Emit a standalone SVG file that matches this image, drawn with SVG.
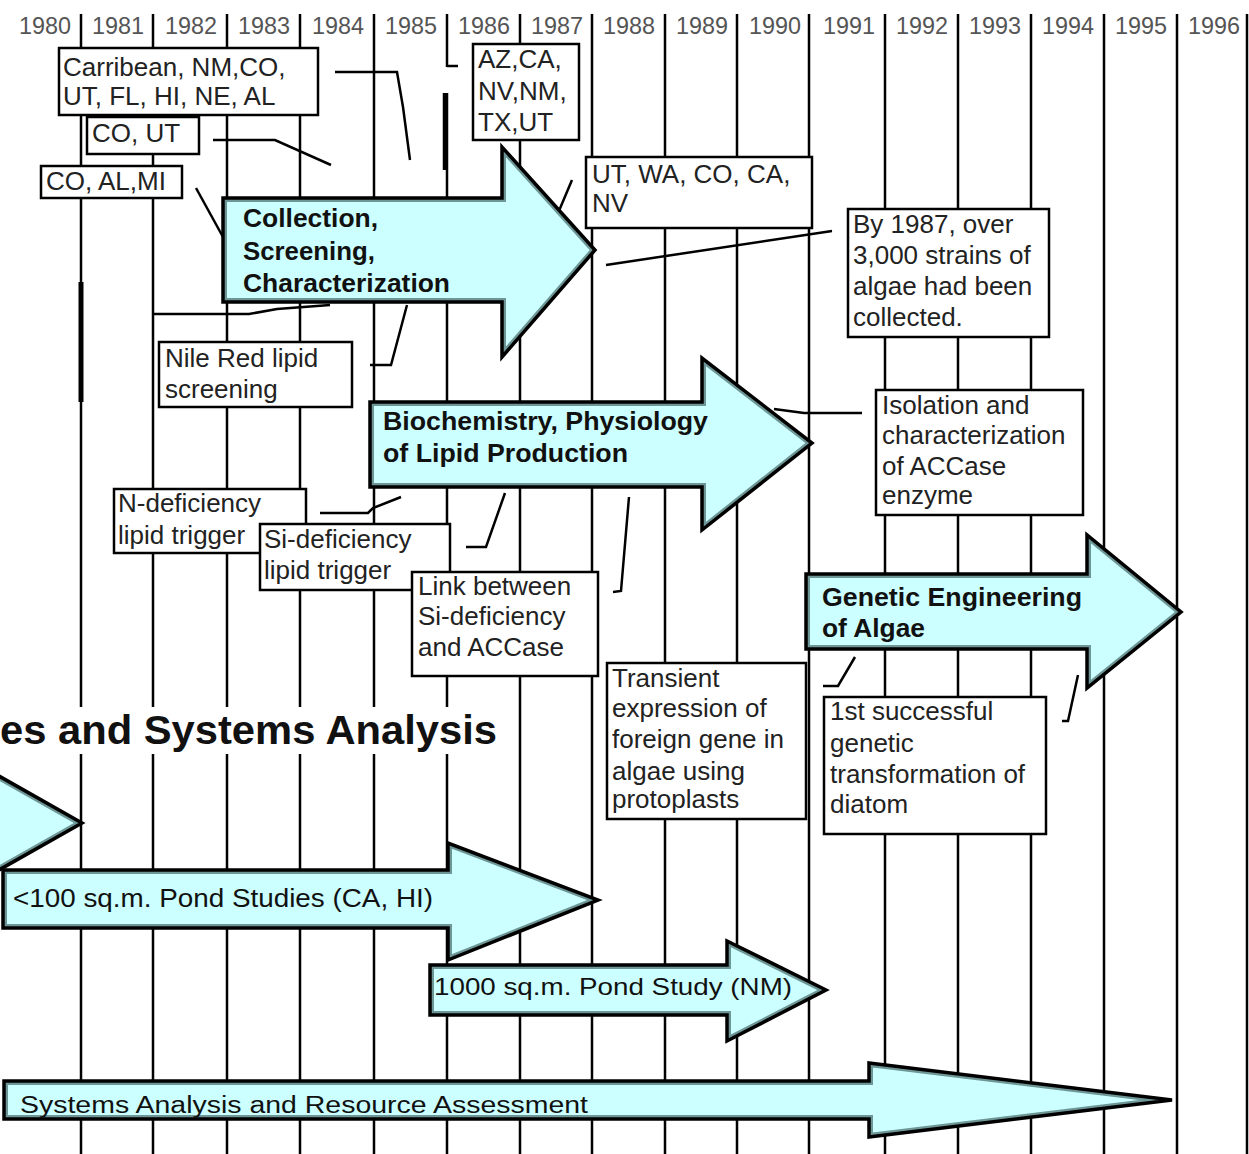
<svg xmlns="http://www.w3.org/2000/svg" width="1249" height="1154" viewBox="0 0 1249 1154">
<style>
.grid line{stroke:#000;stroke-width:2.5}
.yr{font-family:"Liberation Sans",Arial,sans-serif;font-size:23px;fill:#555;text-anchor:middle}
.box rect{fill:#fff;stroke:#000;stroke-width:2.5}
.bt{font-family:"Liberation Sans",Arial,sans-serif;font-size:26px;fill:#222}
.at{font-family:"Liberation Sans",Arial,sans-serif;font-size:25px;font-weight:bold;fill:#111}
.pt{font-family:"Liberation Sans",Arial,sans-serif;fill:#111}
.af{fill:#ccffff}
.ai{fill:none;stroke:#6f9696;stroke-width:8}
.ao{fill:none;stroke:#000;stroke-width:3.5}
.conn polyline,.conn line{fill:none;stroke:#000;stroke-width:2.5}
.title{font-family:"Liberation Sans",Arial,sans-serif;font-size:41px;font-weight:bold;fill:#111}
</style>
<defs>
<path id="pA" d="M223,198 H502 V147 L595,250 L502,357 V302 H223 Z"/>
<path id="pB" d="M370,402 H702 V358 L812,443 L702,530 V487 H370 Z"/>
<path id="pC" d="M806,574 H1087 V535 L1181,612 L1087,688 V649 H806 Z"/>
<path id="pD" d="M-40,754 L82,823 L-40,892 Z"/>
<path id="pE" d="M3,870 H448 V843 L598,900 L448,960 V928 H3 Z"/>
<path id="pF" d="M430,965 H727 V941 L826,990 L727,1041 V1015 H430 Z"/>
<path id="pG" d="M4,1081 H869 V1063 L1172,1100 L869,1137 V1119 H4 Z"/>
<clipPath id="cA"><use href="#pA"/></clipPath>
<clipPath id="cB"><use href="#pB"/></clipPath>
<clipPath id="cC"><use href="#pC"/></clipPath>
<clipPath id="cD"><use href="#pD"/></clipPath>
<clipPath id="cE"><use href="#pE"/></clipPath>
<clipPath id="cF"><use href="#pF"/></clipPath>
<clipPath id="cG"><use href="#pG"/></clipPath>
</defs>
<rect width="1249" height="1154" fill="#fff"/>
<g id="timeline">
<g class="grid">
<line x1="81" y1="14" x2="81" y2="1154"/>
<line x1="153" y1="14" x2="153" y2="1154"/>
<line x1="227" y1="14" x2="227" y2="1154"/>
<line x1="300" y1="14" x2="300" y2="1154"/>
<line x1="374" y1="14" x2="374" y2="1154"/>
<line x1="447" y1="14" x2="447" y2="67"/>
<line x1="447" y1="93" x2="447" y2="1154"/>
<line x1="520" y1="14" x2="520" y2="1154"/>
<line x1="592" y1="14" x2="592" y2="1154"/>
<line x1="665" y1="14" x2="665" y2="1154"/>
<line x1="737" y1="14" x2="737" y2="1154"/>
<line x1="809" y1="14" x2="809" y2="1154"/>
<line x1="885" y1="14" x2="885" y2="1154"/>
<line x1="958" y1="14" x2="958" y2="1154"/>
<line x1="1031" y1="14" x2="1031" y2="1154"/>
<line x1="1104" y1="14" x2="1104" y2="1154"/>
<line x1="1177" y1="14" x2="1177" y2="1154"/>
<line x1="1247" y1="14" x2="1247" y2="1154"/>
<line x1="81" y1="282" x2="81" y2="402" style="stroke-width:5"/>
<line x1="445" y1="93" x2="445" y2="170" style="stroke-width:4.5"/>
</g>
<g class="yr">
<text x="45" y="34" textLength="52" lengthAdjust="spacingAndGlyphs">1980</text>
<text x="118" y="34" textLength="52" lengthAdjust="spacingAndGlyphs">1981</text>
<text x="191" y="34" textLength="52" lengthAdjust="spacingAndGlyphs">1982</text>
<text x="264" y="34" textLength="52" lengthAdjust="spacingAndGlyphs">1983</text>
<text x="338" y="34" textLength="52" lengthAdjust="spacingAndGlyphs">1984</text>
<text x="411" y="34" textLength="52" lengthAdjust="spacingAndGlyphs">1985</text>
<text x="484" y="34" textLength="52" lengthAdjust="spacingAndGlyphs">1986</text>
<text x="557" y="34" textLength="52" lengthAdjust="spacingAndGlyphs">1987</text>
<text x="629" y="34" textLength="52" lengthAdjust="spacingAndGlyphs">1988</text>
<text x="702" y="34" textLength="52" lengthAdjust="spacingAndGlyphs">1989</text>
<text x="775" y="34" textLength="52" lengthAdjust="spacingAndGlyphs">1990</text>
<text x="849" y="34" textLength="52" lengthAdjust="spacingAndGlyphs">1991</text>
<text x="922" y="34" textLength="52" lengthAdjust="spacingAndGlyphs">1992</text>
<text x="995" y="34" textLength="52" lengthAdjust="spacingAndGlyphs">1993</text>
<text x="1068" y="34" textLength="52" lengthAdjust="spacingAndGlyphs">1994</text>
<text x="1141" y="34" textLength="52" lengthAdjust="spacingAndGlyphs">1995</text>
<text x="1214" y="34" textLength="52" lengthAdjust="spacingAndGlyphs">1996</text>
</g>
</g>
<g id="title">
<rect x="0" y="707" width="505" height="47" fill="#fff"/>
<text class="title" x="0" y="744" textLength="497" lengthAdjust="spacingAndGlyphs">es and Systems Analysis</text>
</g>
<g id="connectors" class="conn">
<polyline points="335,72 397,72 403,107 410,160"/>
<line x1="447" y1="66" x2="458" y2="66"/>
<polyline points="213,140 275,140 331,165"/>
<polyline points="196,188 223,237"/>
<polyline points="572,180 553,225"/>
<polyline points="832,231 606,265"/>
<polyline points="370,365 391,365 407,305"/>
<polyline points="154,314 249,314 277,309 330,305"/>
<polyline points="862,413 804,413 774,409"/>
<polyline points="320,513 368,513 373,508 401,497"/>
<polyline points="466,547 486,547 505,493"/>
<polyline points="613,592 621,591 629,497"/>
<polyline points="823,686 838,686 855,657"/>
<polyline points="1062,721 1068,721 1078,675"/>
</g>
<g id="arrow-collection">
<use href="#pA" class="af"/><use href="#pA" class="ai" clip-path="url(#cA)"/><use href="#pA" class="ao"/>
<text class="at" x="243" y="227" textLength="135" lengthAdjust="spacingAndGlyphs">Collection,</text>
<text class="at" x="243" y="260" textLength="132" lengthAdjust="spacingAndGlyphs">Screening,</text>
<text class="at" x="243" y="292" textLength="207" lengthAdjust="spacingAndGlyphs">Characterization</text>
</g>
<g id="arrow-biochemistry">
<use href="#pB" class="af"/><use href="#pB" class="ai" clip-path="url(#cB)"/><use href="#pB" class="ao"/>
<text class="at" x="383" y="430" textLength="325" lengthAdjust="spacingAndGlyphs">Biochemistry, Physiology</text>
<text class="at" x="383" y="462" textLength="245" lengthAdjust="spacingAndGlyphs">of Lipid Production</text>
</g>
<g id="arrow-genetic">
<use href="#pC" class="af"/><use href="#pC" class="ai" clip-path="url(#cC)"/><use href="#pC" class="ao"/>
<text class="at" x="822" y="606" textLength="260" lengthAdjust="spacingAndGlyphs">Genetic Engineering</text>
<text class="at" x="822" y="637" textLength="103" lengthAdjust="spacingAndGlyphs">of Algae</text>
</g>
<g id="arrow-left">
<use href="#pD" class="af"/><use href="#pD" class="ai" clip-path="url(#cD)"/><use href="#pD" class="ao"/>
</g>
<g id="arrow-pond100">
<use href="#pE" class="af"/><use href="#pE" class="ai" clip-path="url(#cE)"/><use href="#pE" class="ao"/>
<text class="pt" x="13" y="907" font-size="25" textLength="420" lengthAdjust="spacingAndGlyphs">&lt;100 sq.m. Pond Studies (CA, HI)</text>
</g>
<g id="arrow-pond1000">
<use href="#pF" class="af"/><use href="#pF" class="ai" clip-path="url(#cF)"/><use href="#pF" class="ao"/>
<text class="pt" x="434" y="995" font-size="24" textLength="358" lengthAdjust="spacingAndGlyphs">1000 sq.m. Pond Study (NM)</text>
</g>
<g id="arrow-systems">
<use href="#pG" class="af"/><use href="#pG" class="ai" clip-path="url(#cG)"/><use href="#pG" class="ao"/>
<text class="pt" x="20" y="1113" font-size="23" textLength="568" lengthAdjust="spacingAndGlyphs">Systems Analysis and Resource Assessment</text>
</g>
<g id="box-carribean" class="box">
<rect x="59" y="48" width="259" height="67"/>
<text class="bt" x="63" y="76">Carribean, NM,CO,</text>
<text class="bt" x="63" y="105">UT, FL, HI, NE, AL</text>
</g>
<g id="box-co-ut" class="box">
<rect x="87" y="117" width="112" height="37"/>
<text class="bt" x="92" y="142">CO, UT</text>
</g>
<g id="box-co-al-mi" class="box">
<rect x="41" y="166" width="141" height="32"/>
<text class="bt" x="46" y="190">CO, AL,MI</text>
</g>
<g id="box-az" class="box">
<rect x="473" y="44" width="106" height="96"/>
<text class="bt" x="478" y="68">AZ,CA,</text>
<text class="bt" x="478" y="100">NV,NM,</text>
<text class="bt" x="478" y="131">TX,UT</text>
</g>
<g id="box-ut-wa" class="box">
<rect x="586" y="157" width="226" height="71"/>
<text class="bt" x="592" y="183">UT, WA, CO, CA,</text>
<text class="bt" x="592" y="212">NV</text>
</g>
<g id="box-by1987" class="box">
<rect x="848" y="209" width="201" height="128"/>
<text class="bt" x="853" y="233">By 1987, over</text>
<text class="bt" x="853" y="264">3,000 strains of</text>
<text class="bt" x="853" y="295">algae had been</text>
<text class="bt" x="853" y="326">collected.</text>
</g>
<g id="box-nile-red" class="box">
<rect x="159" y="342" width="193" height="65"/>
<text class="bt" x="165" y="367">Nile Red lipid</text>
<text class="bt" x="165" y="398">screening</text>
</g>
<g id="box-isolation" class="box">
<rect x="876" y="390" width="207" height="125"/>
<text class="bt" x="882" y="414">Isolation and</text>
<text class="bt" x="882" y="444">characterization</text>
<text class="bt" x="882" y="475">of ACCase</text>
<text class="bt" x="882" y="504">enzyme</text>
</g>
<g id="box-n-def" class="box">
<rect x="114" y="489" width="192" height="64"/>
<text class="bt" x="118" y="512">N-deficiency</text>
<text class="bt" x="118" y="544">lipid trigger</text>
</g>
<g id="box-si-def" class="box">
<rect x="260" y="524" width="190" height="66"/>
<text class="bt" x="264" y="548">Si-deficiency</text>
<text class="bt" x="264" y="579">lipid trigger</text>
</g>
<g id="box-link" class="box">
<rect x="412" y="572" width="186" height="104"/>
<text class="bt" x="418" y="595">Link between</text>
<text class="bt" x="418" y="625">Si-deficiency</text>
<text class="bt" x="418" y="656">and ACCase</text>
</g>
<g id="box-transient" class="box">
<rect x="607" y="663" width="199" height="156"/>
<text class="bt" x="612" y="687">Transient</text>
<text class="bt" x="612" y="717">expression of</text>
<text class="bt" x="612" y="748">foreign gene in</text>
<text class="bt" x="612" y="780">algae using</text>
<text class="bt" x="612" y="808">protoplasts</text>
</g>
<g id="box-first-transformation" class="box">
<rect x="824" y="697" width="222" height="137"/>
<text class="bt" x="830" y="720">1st successful</text>
<text class="bt" x="830" y="752">genetic</text>
<text class="bt" x="830" y="783">transformation of</text>
<text class="bt" x="830" y="813">diatom</text>
</g>
</svg>
